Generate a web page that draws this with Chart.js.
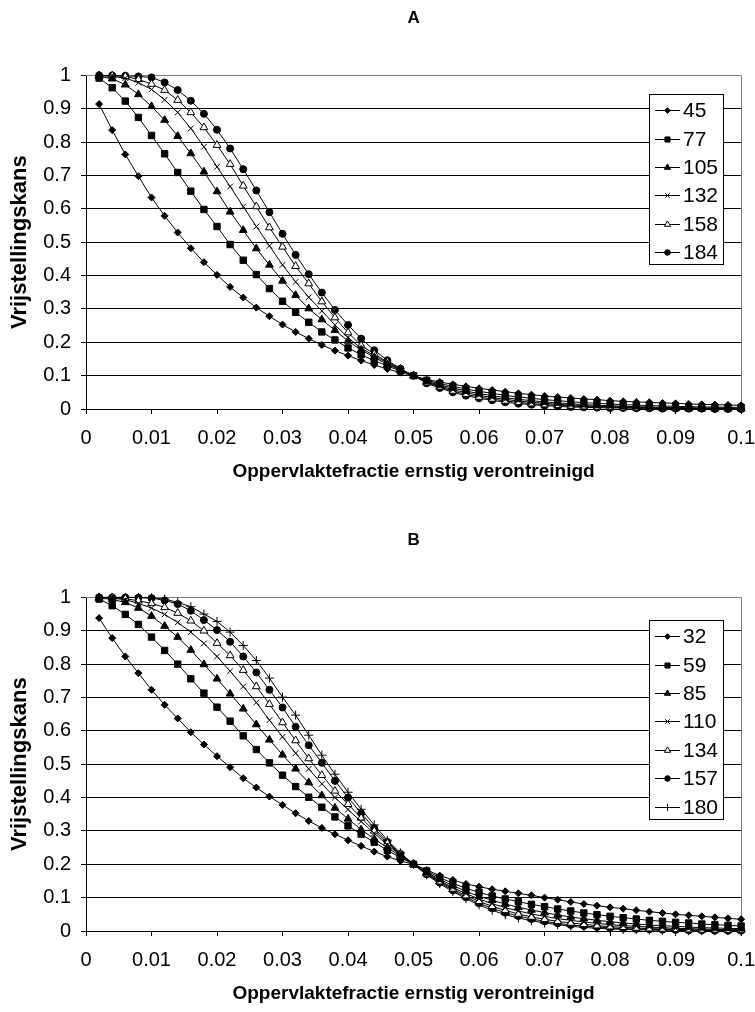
<!DOCTYPE html>
<html>
<head>
<meta charset="utf-8">
<script src="https://cdn.jsdelivr.net/npm/chart.js@4/dist/chart.umd.min.js"></script>
<style>
body { margin: 0; background: #fff; }
.wrap { position: absolute; left: 0; width: 755px; height: 490px; }
</style>
</head>
<body>
<div class="wrap" style="top:0"><canvas id="chartA" width="755" height="490"></canvas></div>
<div class="wrap" style="top:522px"><canvas id="chartB" width="755" height="490"></canvas></div>
<script>
// oppervlaktefractie (x) shared by both panels
const fractie = [0.002,0.004,0.006,0.008,0.010,0.012,0.014,0.016,0.018,0.020,
                 0.022,0.024,0.026,0.028,0.030,0.032,0.034,0.036,0.038,0.040,
                 0.042,0.044,0.046,0.048,0.050,0.052,0.054,0.056,0.058,0.060,
                 0.062,0.064,0.066,0.068,0.070,0.072,0.074,0.076,0.078,0.080,
                 0.082,0.084,0.086,0.088,0.090,0.092,0.094,0.096,0.098,0.100];

// panel A
const labelsA = ['45','77','105','132','158','184'];
const a45  = [0.914,0.836,0.763,0.698,0.634,0.579,0.529,0.482,0.440,0.402,0.366,0.334,0.304,0.278,0.253,0.231,0.211,0.192,0.175,0.160,0.145,0.132,0.120,0.109,0.100,
              0.088,0.081,0.074,0.068,0.062,0.057,0.052,0.047,0.043,0.039,0.036,0.033,0.030,0.028,0.025,0.023,0.021,0.020,0.018,0.017,0.015,0.014,0.013,0.012,0.011];
const a77  = [0.992,0.963,0.923,0.874,0.820,0.765,0.709,0.653,0.598,0.547,0.493,0.446,0.403,0.361,0.323,0.290,0.260,0.231,0.207,0.183,0.163,0.145,0.129,0.114,0.100,
              0.086,0.076,0.068,0.060,0.053,0.047,0.041,0.036,0.032,0.028,0.025,0.022,0.019,0.017,0.015,0.013,0.012,0.010,0.009,0.008,0.007,0.006,0.006,0.005,0.005];
const a105 = [0.997,0.990,0.972,0.943,0.907,0.866,0.818,0.766,0.711,0.652,0.591,0.536,0.481,0.432,0.384,0.341,0.301,0.268,0.236,0.204,0.177,0.155,0.134,0.116,0.100,
              0.083,0.072,0.063,0.054,0.046,0.040,0.034,0.029,0.025,0.021,0.018,0.016,0.013,0.011,0.010,0.008,0.007,0.006,0.005,0.005,0.004,0.003,0.003,0.003,0.002];
const a132 = [0.999,0.997,0.992,0.978,0.958,0.927,0.889,0.841,0.786,0.726,0.667,0.607,0.547,0.489,0.432,0.381,0.335,0.294,0.252,0.214,0.182,0.160,0.138,0.118,0.100,
              0.081,0.069,0.058,0.049,0.041,0.034,0.029,0.024,0.020,0.017,0.014,0.012,0.010,0.008,0.007,0.006,0.005,0.004,0.003,0.003,0.002,0.002,0.002,0.001,0.001];
const a158 = [1.000,0.999,0.997,0.988,0.974,0.956,0.926,0.889,0.844,0.791,0.734,0.669,0.607,0.544,0.486,0.428,0.376,0.322,0.274,0.229,0.190,0.165,0.141,0.120,0.100,
              0.079,0.066,0.054,0.044,0.036,0.030,0.024,0.020,0.016,0.013,0.011,0.009,0.007,0.006,0.005,0.004,0.003,0.003,0.002,0.002,0.001,0.001,0.001,0.001,0.001];
const a184 = [1.000,1.000,0.999,0.997,0.994,0.979,0.956,0.924,0.885,0.837,0.781,0.719,0.655,0.590,0.525,0.462,0.404,0.349,0.297,0.252,0.211,0.176,0.146,0.121,0.100,
              0.077,0.063,0.050,0.040,0.032,0.026,0.020,0.016,0.013,0.010,0.008,0.006,0.005,0.004,0.003,0.003,0.002,0.002,0.001,0.001,0.001,0.001,0.000,0.000,0.000];

// panel B
const labelsB = ['32','59','85','110','134','157','180'];
const b32  = [0.938,0.878,0.823,0.773,0.723,0.678,0.637,0.596,0.559,0.524,0.491,0.458,0.430,0.403,0.378,0.353,0.330,0.309,0.290,0.272,0.255,0.238,0.223,0.210,0.200,
              0.183,0.166,0.153,0.141,0.133,0.125,0.119,0.113,0.107,0.100,0.094,0.087,0.081,0.076,0.071,0.067,0.062,0.058,0.054,0.050,0.047,0.044,0.041,0.038,0.035];
const b59  = [0.995,0.975,0.949,0.919,0.881,0.841,0.800,0.756,0.713,0.671,0.629,0.585,0.544,0.504,0.467,0.433,0.401,0.371,0.342,0.315,0.290,0.266,0.242,0.220,0.200,
              0.180,0.160,0.143,0.128,0.116,0.105,0.096,0.088,0.080,0.073,0.066,0.060,0.054,0.049,0.044,0.040,0.036,0.032,0.029,0.026,0.024,0.021,0.019,0.017,0.015];
const b85  = [0.998,0.994,0.985,0.968,0.944,0.914,0.881,0.842,0.799,0.756,0.711,0.666,0.619,0.573,0.528,0.486,0.445,0.406,0.369,0.336,0.304,0.276,0.250,0.224,0.200,
              0.176,0.155,0.136,0.119,0.104,0.092,0.081,0.071,0.063,0.055,0.048,0.042,0.037,0.032,0.028,0.024,0.021,0.018,0.016,0.014,0.012,0.010,0.009,0.008,0.007];
const b110 = [1.000,0.998,0.993,0.982,0.968,0.949,0.925,0.896,0.862,0.823,0.779,0.733,0.685,0.632,0.582,0.533,0.486,0.441,0.400,0.364,0.328,0.293,0.258,0.227,0.200,
              0.174,0.151,0.130,0.112,0.096,0.082,0.070,0.060,0.051,0.044,0.037,0.032,0.027,0.023,0.019,0.016,0.014,0.012,0.010,0.008,0.007,0.006,0.005,0.004,0.004];
const b134 = [1.000,0.999,0.996,0.990,0.982,0.970,0.953,0.930,0.900,0.863,0.826,0.782,0.733,0.680,0.625,0.571,0.517,0.467,0.420,0.380,0.339,0.300,0.263,0.229,0.200,
              0.172,0.148,0.126,0.106,0.089,0.074,0.062,0.051,0.042,0.035,0.029,0.024,0.020,0.016,0.013,0.011,0.009,0.007,0.006,0.005,0.004,0.003,0.003,0.002,0.002];
const b157 = [1.000,1.000,1.000,0.999,0.998,0.991,0.980,0.960,0.932,0.902,0.867,0.823,0.775,0.723,0.670,0.612,0.557,0.504,0.450,0.400,0.353,0.308,0.267,0.231,0.200,
              0.170,0.145,0.122,0.101,0.083,0.068,0.055,0.045,0.036,0.029,0.023,0.018,0.015,0.012,0.009,0.007,0.006,0.005,0.004,0.003,0.002,0.002,0.001,0.001,0.001];
const b180 = [1.000,1.000,1.000,1.000,0.999,0.995,0.985,0.972,0.950,0.928,0.896,0.856,0.811,0.758,0.701,0.647,0.587,0.527,0.470,0.416,0.365,0.318,0.272,0.234,0.200,
              0.168,0.142,0.118,0.097,0.078,0.062,0.049,0.039,0.031,0.024,0.019,0.014,0.011,0.008,0.006,0.005,0.004,0.003,0.002,0.002,0.001,0.001,0.001,0.001,0.000];

const yTicks = [0,0.1,0.2,0.3,0.4,0.5,0.6,0.7,0.8,0.9,1];
const xTicks = [0,0.01,0.02,0.03,0.04,0.05,0.06,0.07,0.08,0.09,0.1];

// marker per series, in legend order
const markers = [
  { style: 'rectRot',  r: 3.5, fill: '#000' },
  { style: 'rect',     r: 4.5, fill: '#000' },
  { style: 'triangle', r: 4.5, fill: '#000' },
  { style: 'crossRot', r: 4,   fill: '#000' },
  { style: 'triangle', r: 4.5, fill: '#fff' },
  { style: 'circle',   r: 3.5, fill: '#000' },
  { style: 'cross',    r: 4.5, fill: '#000' }
];

const FONT = '"Liberation Sans", Arial, sans-serif';
Chart.defaults.font.family = FONT;
Chart.defaults.color = '#000';

function makeSets(labels, series) {
  return series.map((vals, i) => ({
    label: labels[i],
    data: vals.map((v, j) => ({ x: fractie[j], y: v })),
    borderColor: '#000',
    borderWidth: 1,
    tension: 0,
    pointStyle: markers[i].style,
    pointRadius: markers[i].r,
    pointBackgroundColor: markers[i].fill,
    pointBorderColor: '#000',
    pointBorderWidth: 1,
    clip: false
  }));
}

// gray frame on top and right of the plot area
const plotFrame = {
  id: 'plotFrame',
  beforeDatasetsDraw(chart) {
    const { ctx, chartArea: a } = chart;
    ctx.save();
    ctx.strokeStyle = '#808080';
    ctx.lineWidth = 1;
    ctx.beginPath();
    ctx.moveTo(a.left, Math.round(a.top) + 0.5);
    ctx.lineTo(Math.round(a.right) + 0.5, Math.round(a.top) + 0.5);
    ctx.lineTo(Math.round(a.right) + 0.5, a.bottom);
    ctx.stroke();
    ctx.restore();
  }
};

// boxed legend inside the plot area
const boxLegend = {
  id: 'boxLegend',
  afterDatasetsDraw(chart, args, opts) {
    const { ctx, chartArea: a } = chart;
    const sets = chart.data.datasets;
    const rowH = 28.4;
    const left = Math.round(a.right - 92), top = Math.round(a.top + opts.top);
    const w = 74, h = Math.round(rowH * sets.length);
    ctx.save();
    ctx.fillStyle = '#fff';
    ctx.fillRect(left, top, w, h);
    ctx.strokeStyle = '#000';
    ctx.lineWidth = 1;
    ctx.strokeRect(left + 0.5, top + 0.5, w, h);
    ctx.font = '21px ' + FONT;
    ctx.textBaseline = 'middle';
    sets.forEach((ds, i) => {
      const y = Math.round(top + 2 + rowH * (i + 0.5)) + 0.5;
      ctx.strokeStyle = '#000';
      ctx.beginPath();
      ctx.moveTo(left + 6, y);
      ctx.lineTo(left + 31, y);
      ctx.stroke();
      ctx.fillStyle = ds.pointBackgroundColor;
      Chart.helpers.drawPoint(ctx, {
        pointStyle: ds.pointStyle, radius: ds.pointRadius * 0.8, rotation: 0, borderWidth: 1
      }, left + 18.5, y);
      ctx.fillStyle = '#000';
      ctx.fillText(ds.label, left + 34, y + 1);
    });
    ctx.restore();
  }
};

function drawPanel(id, title, labels, series, legendTop) {
  return new Chart(document.getElementById(id), {
    type: 'line',
    data: { datasets: makeSets(labels, series) },
    plugins: [plotFrame, boxLegend],
    options: {
      responsive: false,
      animation: false,
      devicePixelRatio: 1,
      layout: { padding: { left: 0, right: 0, top: 0, bottom: 0 } },
      plugins: {
        legend: { display: false },
        tooltip: { enabled: false },
        title: {
          display: true,
          text: title,
          fullSize: false,
          font: { size: 17, weight: 'bold' },
          padding: { top: 8, bottom: 47 }
        },
        boxLegend: { top: legendTop }
      },
      scales: {
        x: {
          type: 'linear',
          min: 0, max: 0.1,
          afterFit: s => { s.height = 81; },
          afterBuildTicks: s => { s.ticks = xTicks.map(v => ({ value: v })); },
          ticks: {
            // tall line box pushes the labels down without widening the side padding
            font: { size: 20, lineHeight: 2.4 },
            padding: 0,
            maxRotation: 0,
            autoSkip: false,
            callback: v => String(Math.round(v * 100) / 100)
          },
          grid: { drawOnChartArea: false, drawTicks: true, tickLength: 5, color: '#000' },
          border: { color: '#000', width: 1 },
          title: {
            display: true,
            text: 'Oppervlaktefractie ernstig verontreinigd',
            font: { size: 19, weight: 'bold' },
            padding: { top: 0, bottom: 7 }
          }
        },
        y: {
          min: 0, max: 1,
          afterFit: s => { s.width = 86; },
          afterBuildTicks: s => { s.ticks = yTicks.map(v => ({ value: v })); },
          ticks: {
            font: { size: 20 },
            padding: 10,
            callback: v => String(Math.round(v * 10) / 10)
          },
          grid: { color: '#000', lineWidth: 1, tickLength: 5 },
          border: { color: '#000', width: 1 },
          title: {
            display: true,
            text: 'Vrijstellingskans',
            font: { size: 22, weight: 'bold' },
            padding: { top: 7, bottom: 0 }
          }
        }
      }
    }
  });
}

drawPanel('chartA', 'A', labelsA, [a45, a77, a105, a132, a158, a184], 19);
drawPanel('chartB', 'B', labelsB, [b32, b59, b85, b110, b134, b157, b180], 23);
</script>
</body>
</html>
